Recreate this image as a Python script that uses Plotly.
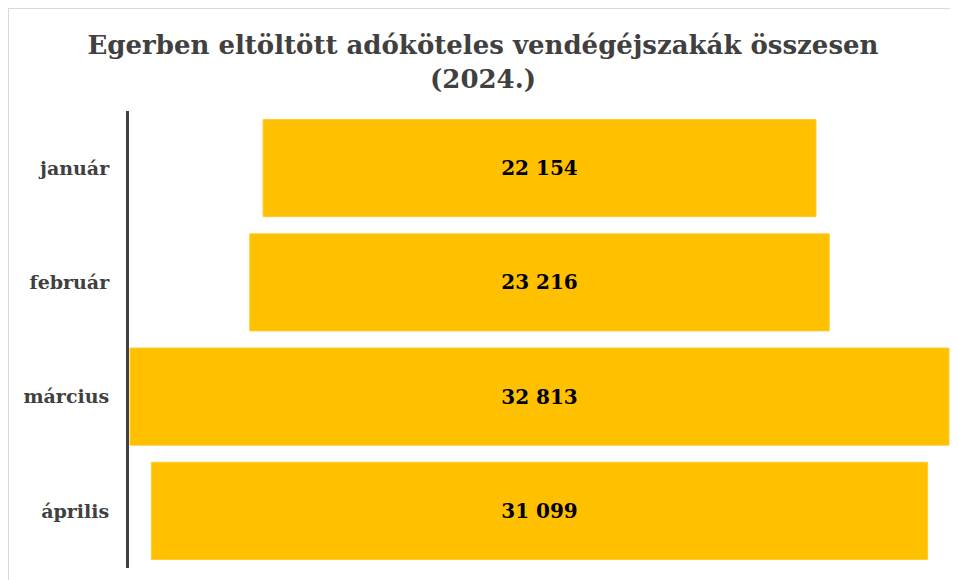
import plotly.graph_objects as go

months = ["január", "február", "március", "április"]
nights = [22154, 23216, 32813, 31099]

title_text = "Egerben eltöltött adóköteles vendégéjszakák összesen<br>(2024.)"

serif = "DejaVu Serif, Liberation Serif, serif"

W, H = 950, 572  # page body has an 8px margin

fig = go.Figure(go.Funnel(
    y=months,
    x=nights,
    texttemplate="%{value:,}",
    textposition="inside",
    insidetextanchor="middle",
    textfont=dict(family=serif, size=20, color="#000000", weight="bold"),
    marker=dict(color="#FFC000", line=dict(color="#FFCB2E", width=1)),
    connector=dict(visible=False),
    hoverinfo="y+x",
))

mx = max(nights)
half = mx / 2 * 821 / 819

L, R, T, B = 121, 8, 103, 12
pw = W - L - R
ph = H - T - B

fig.update_layout(
    width=W, height=H,
    margin=dict(l=L, r=R, t=T, b=B),
    paper_bgcolor="white", plot_bgcolor="white",
    separators=". ",
    showlegend=False,
    funnelgap=0.15,
    title=dict(text=title_text, x=0.5, xanchor="center", xref="container",
               y=1 - 46 / H, yanchor="top", yref="container",
               font=dict(family=serif, size=26, color="#404040", weight="bold")),
    xaxis=dict(visible=False, range=[-half, half], fixedrange=True),
    yaxis=dict(showline=True, linecolor="#404040", linewidth=3,
               showgrid=False, ticks="", ticklabelstandoff=13,
               tickfont=dict(family=serif, size=19, color="#404040", weight="bold")),
    shapes=[
        dict(type="line", xref="paper", yref="paper", x0=-L / pw, x1=-L / pw,
             y0=-B / ph, y1=(ph + T) / ph, line=dict(color="#D9D9D9", width=2)),
        dict(type="line", xref="paper", yref="paper", x0=-L / pw, x1=(pw + R) / pw,
             y0=(ph + T) / ph, y1=(ph + T) / ph, line=dict(color="#D9D9D9", width=2)),
    ],
)

fig.write_html("out.html")
